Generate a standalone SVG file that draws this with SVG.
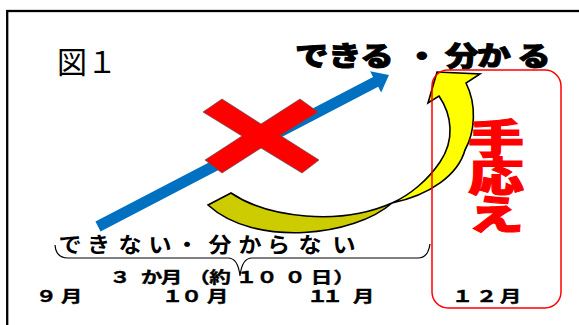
<svg xmlns="http://www.w3.org/2000/svg" width="579" height="325" viewBox="0 0 579 325">
<style>
.jp{font-family:"Noto Sans CJK JP","Noto Sans",sans-serif;}
.b{font-weight:700;fill:#000;}
.lbl{font-size:16px;stroke:#000;stroke-width:0.35;}
</style>
<rect x="0" y="0" width="579" height="325" fill="#fff"/>
<g id="frame"><rect x="7.2" y="11" width="640" height="400" fill="none" stroke="#000" stroke-width="2.3"/></g>
<g id="title"><text class="jp" x="57" y="73" font-size="30" fill="#000">図１</text></g>
<g id="blue-arrow">
<polygon transform="translate(98,226.5) rotate(-27.5)" points="0,-5.5 313,-5.5 313,-12 328,0 313,12 313,5.5 0,5.5" fill="#0070C0"/>
</g>
<g id="cross">
<polygon points="203,112 222,99 261,124 300,99 318,112 280.4,135.5 319,160 302,173 261,148 222,173 205,160 242,136" fill="#ff0000" stroke="#555" stroke-width="0.7" stroke-linejoin="miter"/>
</g>
<g id="yellow-arrow" stroke="#000" stroke-width="1.6" stroke-linejoin="miter">
<path d="M208,205 L231,193 C268,218 340,226 392,203 C355,236 255,248 208,205 Z" fill="#cccc00"/>
<path d="M392,203 C430,195 458,175 465,150 C475,132 477,105 466,83 L480,74 L437,72 L428,103 L439,96 C452,115 455,140 440,162 C428,180 410,195 392,203 Z" fill="#ffff00"/>
</g>
<g id="brace">
<path d="M55,245 Q56,258 68,258 L228,258 Q238,258 240,276 Q242,258 252,258 L418,258 Q428,258 430,244" fill="none" stroke="#000" stroke-width="1.2"/>
</g>
<g id="cannot-label">
<text class="jp b" font-size="21" transform="scale(1.1,1)" text-anchor="middle" y="252" x="63.6 89.5 118.2 145.5 170 200 227.3 253.2 281.8 312.7">できない・分からない</text>
</g>
<g id="duration-label">
<text class="jp b lbl" transform="scale(1.35,1)" text-anchor="middle" y="283" x="88.9 112.2 127 147.4 163 182.6 197.8 218.5 238.1 254.8">３か月（約１００日）</text>
</g>
<g id="months">
<text class="jp b lbl" transform="scale(1.35,1)" text-anchor="middle" y="302" x="34.4 53">９月</text>
<text class="jp b lbl" transform="scale(1.35,1)" text-anchor="middle" y="302" x="127.8 141.9 161.1">１０月</text>
<text class="jp b lbl" transform="scale(1.35,1)" text-anchor="middle" y="302" x="235.2 246.3 269.3">１１月</text>
</g>
<g id="response-box">
<rect x="432" y="70" width="129" height="238" rx="16" fill="none" stroke="#ff0000" stroke-width="1.5"/>
<text class="jp" font-size="40" font-weight="900" fill="#ff0000" stroke="#ff0000" stroke-width="1" transform="scale(1.4,1)" text-anchor="middle" x="354.3 354.3 354.3" y="153 191 229">手応え</text>
<text class="jp b lbl" transform="scale(1.35,1)" text-anchor="middle" y="302" x="342.6 360.4 378.1">１２月</text>
</g>
<g id="goal-label">
<text class="jp" font-size="27" font-weight="900" fill="#000" stroke="#000" stroke-width="0.9" transform="scale(1.25,1)" text-anchor="middle" y="66" x="249.6 276 301.6 320 337.6 355 369.6 395.2 427.2">できる ・ 分かる</text>
</g>
</svg>
